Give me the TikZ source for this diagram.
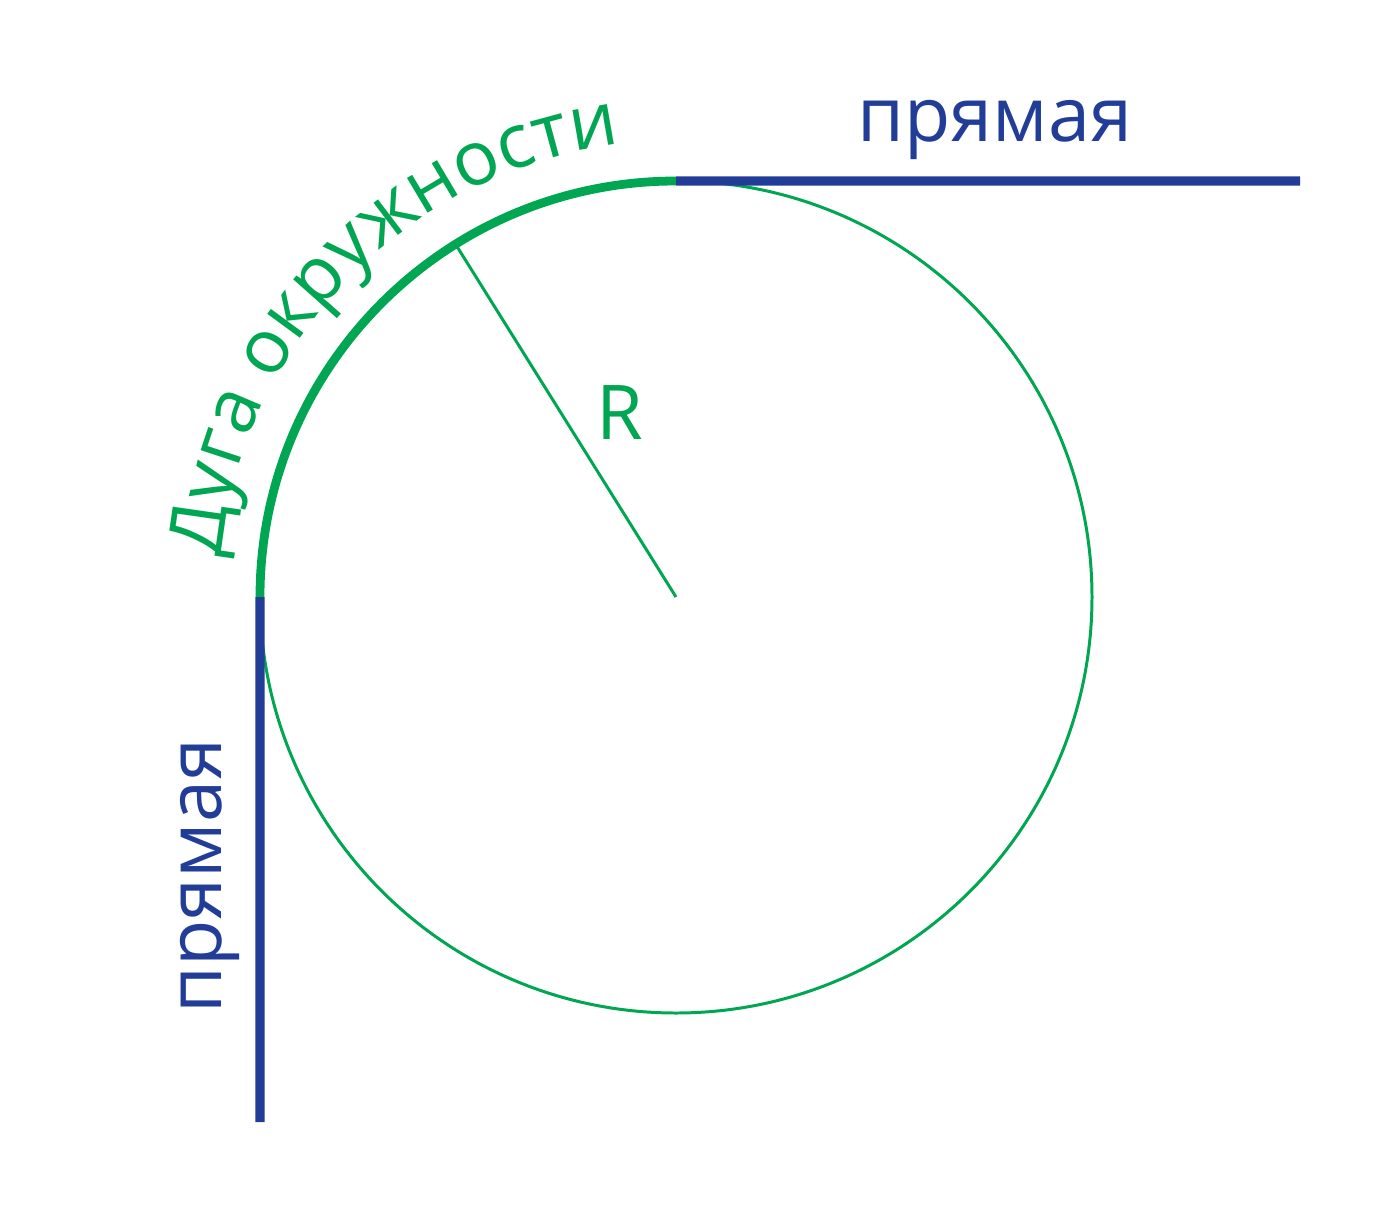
\documentclass[tikz,border=0pt]{standalone}
\usepackage{fontspec}
\setmainfont{Open Sans}
\usepackage{tikz}
\usetikzlibrary{calc,decorations.text}
\definecolor{lineblue}{RGB}{33,61,151}
\definecolor{arcgreen}{RGB}{0,166,81}
\newcommand{\BL}[1]{\textcolor{lineblue}{#1}}
\newcommand{\GR}[1]{\textcolor{arcgreen}{#1}}
\newcommand{\bigfont}{\fontsize{21.5pt}{24pt}\selectfont}

\begin{document}
\begin{tikzpicture}[scale=1]

  \bigfont

  \newcommand\Rad{4.16}
  \newcommand\Txt{4.56}

  \useasboundingbox (0,0) rectangle (14,12.08);

  \coordinate (C) at (6.76,6.11);
  \coordinate (T) at ($(C)+(0,\Rad)$);
  \coordinate (L) at ($(C)+(-\Rad,0)$);
  \coordinate (E) at (13.00,10.27);
  \coordinate (B) at (2.60,0.86);
  \coordinate (P) at ($(C)+(122:\Rad)$);

  %% circle, thin
  \draw[arcgreen, line width=0.85pt] (C) circle[radius=\Rad];
  %% arc between the two lines, thick
  \draw[arcgreen, line width=2.5pt] (L) arc[start angle=180, end angle=90, radius=\Rad];

  %% the lines
  \draw[lineblue, line width=2.6pt] (T) -- (E);
  \draw[lineblue, line width=2.6pt] (L) -- (B);

  %% radius
  \draw[arcgreen, line width=0.85pt] (C) -- (P);
  \node[inner sep=0pt] (r) at (6.20,7.95) {\GR{R}};

  \node[inner sep=0pt] (top) at (9.95,10.785) {\BL{прямая}};
  \node[inner sep=0pt, rotate=90] (left) at (2.10,3.32) {\BL{прямая}};

  % \draw[red] (C) circle[radius=\Txt];
  \path[decorate, decoration={text along path, text align=center,
      text color=arcgreen, text={|\bigfont|Дуга окружности}}]
    ($(C)+(180:\Txt)$) arc[start angle=180, end angle=92, radius=\Txt];

\end{tikzpicture}
\end{document}
